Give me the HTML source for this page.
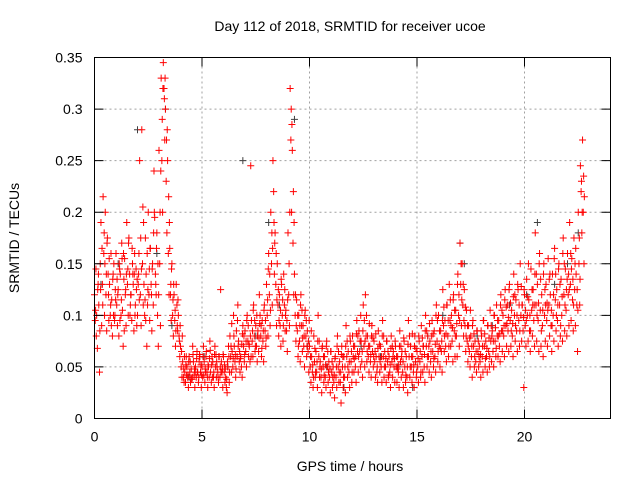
<!DOCTYPE html>
<html><head><meta charset="utf-8"><style>
body{margin:0;background:#fff}
svg text{font-family:"Liberation Sans",sans-serif;font-size:14px;fill:#000}
</style></head><body>
<svg id="chart" width="640" height="480" viewBox="0 0 640 480" xmlns="http://www.w3.org/2000/svg">
<rect width="640" height="480" fill="#fff"/>
<g id="grid"></g>
<g id="gray"></g>
<g id="red"></g>
<rect x="94.5" y="57.5" width="516" height="361" fill="none" stroke="#000" stroke-width="1"/>
<g id="ticks"></g>
<text x="350" y="31" text-anchor="middle">Day 112 of 2018, SRMTID for receiver ucoe</text>
<text x="350" y="471" text-anchor="middle">GPS time / hours</text>
<text transform="translate(19,238) rotate(-90)" text-anchor="middle">SRMTID / TECUs</text>
</svg>
<script>
const xTicks=[0,5,10,15,20];
const yTicks=[0,0.05,0.1,0.15,0.2,0.25,0.3,0.35];
const yTickLabels=["0","0.05","0.1","0.15","0.2","0.25","0.3","0.35"];
const timeStep=0.1;
const redA=[120,100,110,190,215,200,175,130,115,150,160,125,140,105,155,190,175,120,130,110,100,250,280,130,140,200,165,150,195,180,260,330,345,300,250,165,150,120,130,100,70,55,45,50,60,48,55,50,45,60,50,55,65,50,45,55,70,50,60,55,60,40,50,80,65,70,85,75,60,90,85,100,70,95,110,90,85,100,95,110,130,160,200,250,180,150,120,130,140,105,180,320,260,140,115,100,120,90,105,85,70,60,80,65,100,55,70,60,75,55,65,50,60,80,55,70,60,90,65,75,80,70,95,85,75,110,120,80,70,90,75,60,85,70,95,65,75,60,80,65,70,60,85,65,75,60,95,70,60,80,65,75,90,70,100,80,75,95,85,110,100,85,125,95,110,130,100,120,105,140,170,150,125,105,90,80,95,75,85,70,80,95,75,90,105,85,100,110,95,120,100,125,110,130,105,140,115,125,150,110,120,135,115,145,125,180,130,160,120,150,130,155,120,140,165,125,150,135,175,145,160,190,155,175,140,200,245,270];
const redB=[95,68,45,90,160,120,140,100,80,95,110,80,100,70,120,130,140,95,85,145,130,120,150,100,70,120,130,110,140,100,150,250,320,230,160,120,100,95,110,80,50,40,35,40,45,38,42,40,35,45,40,35,45,40,35,40,50,45,40,45,45,30,70,60,50,55,60,55,50,70,65,75,55,75,80,70,65,80,75,85,100,120,150,220,130,110,90,100,110,85,120,270,170,100,85,75,90,70,80,65,50,45,55,45,60,40,50,40,50,40,45,35,40,50,35,50,40,60,45,55,60,50,65,65,55,70,80,60,55,65,55,45,60,50,60,50,55,45,55,50,50,45,55,45,50,40,60,50,45,55,50,55,60,50,70,60,55,65,60,75,70,65,90,70,80,95,75,85,80,100,130,110,90,75,65,60,70,55,65,55,60,70,60,65,75,65,75,80,70,85,80,90,85,95,80,100,85,95,100,85,90,100,85,105,95,110,95,105,90,100,95,110,90,100,115,95,110,100,120,105,120,130,115,125,110,150,220,200];
const redC=[145,130,150,130,100,85,95,160,140,125,90,145,170,135,90,100,110,150,160,90,160,90,110,175,110,95,85,240,120,70,90,200,270,180,120,95,80,70,85,60,40,35,60,30,35,70,30,65,55,30,70,45,30,75,60,30,40,35,125,30,35,25,35,45,100,40,110,45,40,55,50,60,245,60,65,55,120,60,55,70,80,90,110,140,90,80,70,75,85,65,90,200,120,75,60,55,65,50,60,45,35,30,40,30,40,25,35,30,35,25,30,20,30,35,15,30,25,40,30,35,45,35,45,50,40,50,55,45,40,50,40,35,45,35,40,35,40,30,40,35,35,30,40,30,35,25,40,35,30,40,35,40,45,35,50,45,40,50,45,55,50,45,65,55,60,70,55,60,60,70,90,80,65,55,50,40,50,45,50,40,45,50,45,50,55,50,60,60,55,65,60,70,65,70,60,75,65,70,75,30,70,75,65,80,70,75,65,70,60,75,70,80,65,75,85,70,80,75,85,80,90,95,85,90,65,110,180,150];
const redD=[105,125,85,165,180,140,120,110,135,100,135,150,115,160,125,145,100,165,140,125,140,175,205,115,160,145,120,180,130,150,200,290,310,270,215,130,115,105,90,75,65,48,52,42,55,40,48,58,40,52,60,48,40,58,52,45,62,40,50,48,52,38,60,70,58,62,95,65,72,80,75,90,80,85,95,100,78,90,85,95,115,140,180,190,160,125,105,115,125,95,150,300,220,120,100,90,105,80,95,75,60,52,68,55,75,48,60,52,65,48,55,42,50,65,45,60,50,75,55,65,70,60,80,75,65,95,100,70,62,78,65,50,72,60,80,58,65,52,70,58,60,52,70,55,65,50,80,60,52,68,58,65,78,62,85,70,65,82,72,95,85,75,108,82,95,115,88,105,92,120,150,130,108,90,78,70,82,65,75,62,70,82,68,78,90,75,88,95,82,105,90,108,98,112,92,120,100,110,128,98,105,118,100,125,110,140,112,135,105,125,112,135,105,120,140,110,130,118,150,125,140,160,135,150,125,175,230,235];
const redE=[80,140,125,110,150,170,155,90,100,115,120,95,155,85,140,170,120,140,100,135,115,145,190,95,125,165,145,200,165,120,240,320,330,280,190,145,130,85,115,90,80,60,42,55,38,62,45,45,62,42,42,60,52,66,40,62,55,60,45,62,48,55,45,92,80,48,70,58,82,62,95,72,60,105,70,80,92,68,105,78,145,105,165,170,115,95,135,90,100,115,200,285,190,90,70,110,78,100,70,95,85,40,45,75,50,68,42,70,45,65,40,58,70,45,62,40,70,50,80,45,58,82,60,100,85,75,65,92,80,60,82,68,55,80,50,75,42,68,60,75,48,70,60,78,42,72,50,82,70,45,80,45,70,85,60,92,80,58,100,65,68,95,80,110,70,90,115,80,130,95,115,95,80,70,105,90,60,85,60,85,95,58,90,60,80,100,68,80,110,85,115,92,125,85,118,90,130,85,110,125,95,150,85,110,140,100,150,85,140,110,105,140,90,155,100,145,90,160,110,135,125,145,110,165,105,135,200,215];
const grayTimes=[0.3,1.1,2.0,2.9,3.3,3.6,4.4,5.1,6.2,6.9,7.5,8.1,8.6,9.3,9.9,10.8,11.6,12.4,13.3,14.1,14.8,15.5,16.2,17.0,17.2,17.8,18.5,19.3,20.1,20.6,21.4,22.0,22.5];
const grayValues=[0.13,0.15,0.28,0.16,0.3,0.09,0.04,0.06,0.05,0.25,0.08,0.19,0.11,0.29,0.07,0.05,0.03,0.07,0.06,0.05,0.03,0.08,0.1,0.17,0.15,0.08,0.09,0.11,0.12,0.19,0.13,0.15,0.18];

const X0=94.5,X1=610.5,Y0=418.5,Y1=57.5,XMAX=24,YMAX=0.35;
const xs=v=>X0+(X1-X0)*v/XMAX;
const ys=v=>Y0-(Y0-Y1)*v/YMAX;
const NS="http://www.w3.org/2000/svg";
const grid=document.getElementById('grid'),ticks=document.getElementById('ticks');
function mk(tag,attrs,parent){const e=document.createElementNS(NS,tag);for(const k in attrs)e.setAttribute(k,attrs[k]);parent.appendChild(e);return e;}
xTicks.forEach(t=>{
  const x=xs(t);
  if(t>0){const g=mk('line',{x1:x,x2:x,y1:Y0,y2:Y1,stroke:'#a0a0a0','stroke-dasharray':'2,3'},grid);
  
  }
  const tk=mk('path',{d:`M${x},${Y0}v-9M${x},${Y1}v9`,stroke:'#000'},ticks);
  
  
  const l=mk('text',{x:x,y:Y0+23,'text-anchor':'middle'},ticks);l.textContent=t;
  
  
});
yTicks.forEach((t,i)=>{
  const y=ys(t);
  if(i>0&&i<yTicks.length-1){const g=mk('line',{x1:X0,x2:X1,y1:y,y2:y,stroke:'#a0a0a0','stroke-dasharray':'2,3'},grid);
  
  }
  const tk=mk('path',{d:`M${X0},${y}h9M${X1},${y}h-9`,stroke:'#000'},ticks);
  
  
  const l=mk('text',{x:X0-12,y:y+5,'text-anchor':'end'},ticks);l.textContent=yTickLabels[i];
  
  
});
function plus(parent,t,v,color,name){
  const x=xs(t),y=ys(v);
  const p=mk('path',{d:`M${x-3.5},${y}h7M${x},${y-3.5}v7`,stroke:color,'stroke-width':1},parent);
  
  
}
const gG=document.getElementById('gray'),gR=document.getElementById('red');
grayTimes.forEach((t,i)=>plus(gG,t,grayValues[i],'#404040','gray-point'));
const redSeries=[redA,redB,redC,redD,redE];
const redOffsets=[0,0.033,0.067,0.05,0.083];
redSeries.forEach((arr,k)=>arr.forEach((v,i)=>plus(gR,i*timeStep+redOffsets[k],v/1000,'#ff0000','red-point')));
</script>
</body></html>
